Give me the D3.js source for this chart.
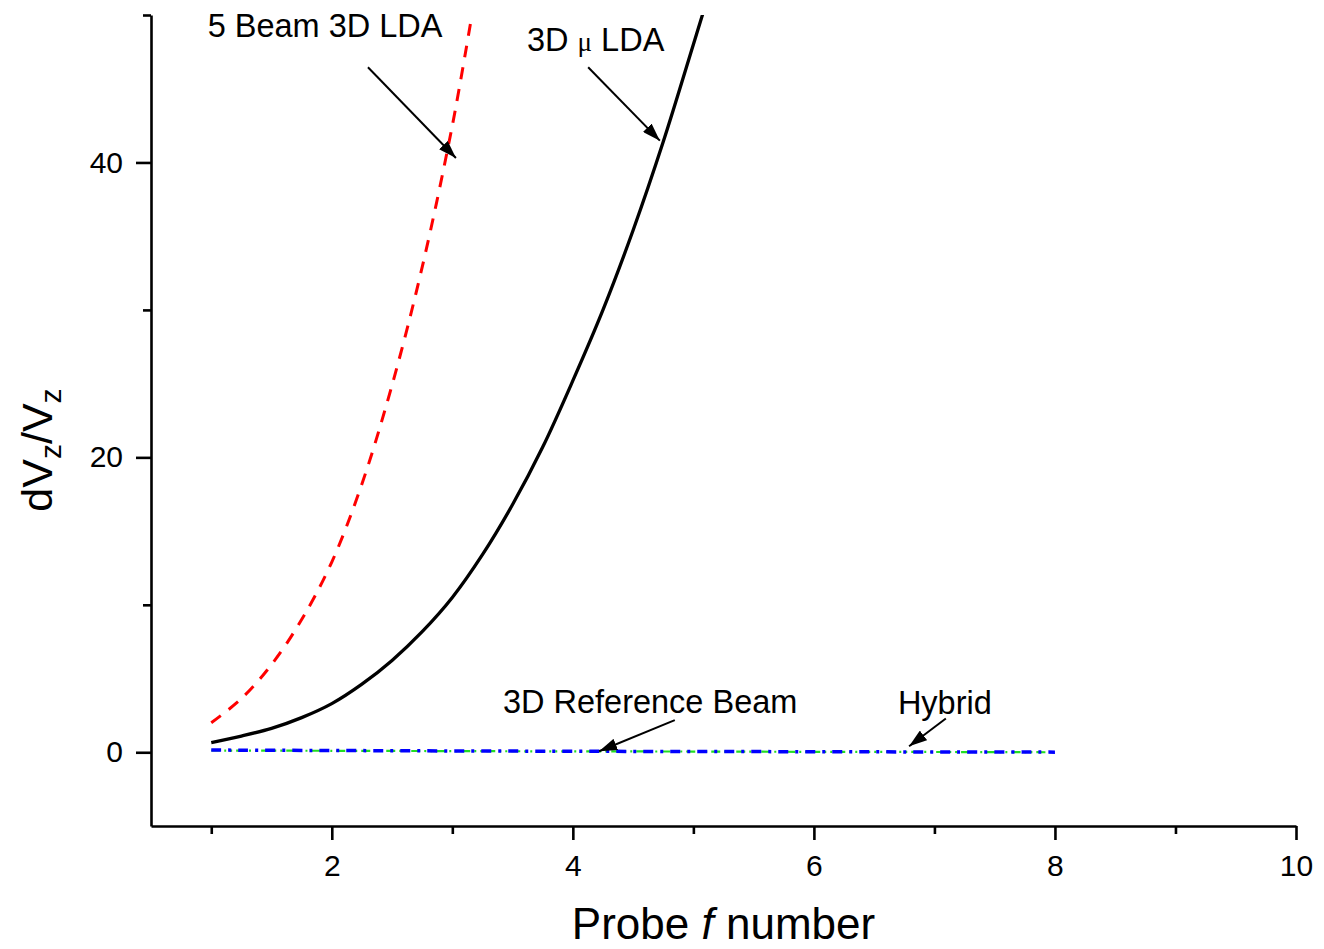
<!DOCTYPE html>
<html>
<head>
<meta charset="utf-8">
<script src="https://cdn.jsdelivr.net/npm/d3@7"></script>
<style>
  body { margin: 0; background: #fff; }
  svg { display: block; font-family: Arial, "Liberation Sans", sans-serif; }
</style>
</head>
<body>
<div id="chart"></div>
<script>
// probe f number vs dVz/Vz
var fiveBeamF = [1, 1.25, 1.5, 1.75, 2, 2.25, 2.5, 2.75, 3, 3.15];
var fiveBeamV = [2.0, 3.64, 5.95, 9.0, 12.9, 18.2, 24.9, 32.9, 42.5, 49.4];

var microF = [1, 1.25, 1.5, 1.75, 2, 2.25, 2.5, 2.75, 3, 3.25, 3.5, 3.75, 4, 4.25, 4.5, 4.75, 5, 5.09];
var microV = [0.66, 1.1, 1.62, 2.35, 3.3, 4.62, 6.23, 8.18, 10.5, 13.4, 16.8, 20.7, 25.2, 30.0, 35.4, 41.4, 48.0, 50.4];

var refF = [1, 2, 3, 4, 5, 6, 7, 8];
var refV = [0.15, 0.12, 0.09, 0.07, 0.05, 0.04, 0.02, 0.01];
var hybridV = [0.12, 0.10, 0.08, 0.06, 0.05, 0.03, 0.02, 0.0];

var xMajor = [2, 4, 6, 8, 10];
var xMinor = [1, 3, 5, 7, 9];
var yMajor = [0, 20, 40];
var yMinor = [10, 30, 50];

// annotation text + arrows, in data units
var notes = [
  {text: "5 Beam 3D LDA", tx: 0.97, ty: 48.5, x1: 2.30, y1: 46.46, x2: 3.03, y2: 40.3},
  {text: "3D \u03bc LDA", tx: 3.62, ty: 47.55, x1: 4.127, y1: 46.46, x2: 4.722, y2: 41.48},
  {text: "3D Reference Beam", tx: 3.42, ty: 2.65, x1: 4.846, y1: 2.18, x2: 4.218, y2: 0.07},
  {text: "Hybrid", tx: 6.697, ty: 2.59, x1: 7.095, y1: 2.29, x2: 6.79, y2: 0.41}
];

var W = 1324, H = 949;
var pLeft = 151, pRight = 1296, pTop = 15, pBottom = 826;

var svg = d3.select("#chart").append("svg")
  .attr("width", W).attr("height", H);

var x = d3.scaleLinear().domain([0.5, 10]).range([pLeft, pRight]);
var y = d3.scaleLinear().domain([-5, 50]).range([pBottom, pTop]);

var defs = svg.append("defs");
defs.append("marker")
  .attr("id", "head")
  .attr("markerUnits", "userSpaceOnUse")
  .attr("viewBox", "0 0 18 12")
  .attr("refX", 18).attr("refY", 6)
  .attr("markerWidth", 18).attr("markerHeight", 12)
  .attr("orient", "auto")
  .append("path").attr("d", "M0,0 L18,6 L0,12 Z").attr("fill", "#000");

defs.append("clipPath").attr("id", "plot")
  .append("rect").attr("x", pLeft).attr("y", pTop)
  .attr("width", pRight - pLeft).attr("height", pBottom - pTop);

function pairs(xs, ys) {
  return xs.map(function(d, i) { return [d, ys[i]]; });
}

var line = d3.line()
  .x(function(d) { return x(d[0]); })
  .y(function(d) { return y(d[1]); })
  .curve(d3.curveCatmullRom.alpha(0.5));

var g = svg.append("g").attr("clip-path", "url(#plot)");

// hybrid (green dash-dot-dot) under the blue reference beam line
g.append("path").datum(pairs(refF, hybridV))
  .attr("d", line).attr("fill", "none")
  .attr("stroke", "#22dd22").attr("stroke-width", 2.2)
  .attr("stroke-dasharray", "9,4,2,4,2,4");

g.append("path").datum(pairs(refF, refV))
  .attr("d", line).attr("fill", "none")
  .attr("stroke", "#0000ff").attr("stroke-width", 3.5)
  .attr("stroke-dasharray", "10,7,3,7");

g.append("path").datum(pairs(microF, microV))
  .attr("d", line).attr("fill", "none")
  .attr("stroke", "#000").attr("stroke-width", 3.3);

g.append("path").datum(pairs(fiveBeamF, fiveBeamV))
  .attr("d", line).attr("fill", "none")
  .attr("stroke", "#ff0000").attr("stroke-width", 3)
  .attr("stroke-dasharray", "12,10");

// axes
svg.append("g").attr("transform", "translate(0," + pBottom + ")")
  .call(d3.axisBottom(x).tickValues(xMajor).tickSize(14).tickSizeOuter(0).tickPadding(15)
    .tickFormat(d3.format("d")));
svg.append("g").attr("transform", "translate(0," + pBottom + ")")
  .call(d3.axisBottom(x).tickValues(xMinor).tickSize(8).tickFormat(""))
  .select(".domain").remove();

svg.append("g").attr("transform", "translate(" + pLeft + ",0)")
  .call(d3.axisLeft(y).tickValues(yMajor).tickSize(15).tickSizeOuter(0).tickPadding(13)
    .tickFormat(d3.format("d")));
svg.append("g").attr("transform", "translate(" + pLeft + ",0)")
  .call(d3.axisLeft(y).tickValues(yMinor).tickSize(8).tickFormat(""))
  .select(".domain").remove();

svg.selectAll(".domain, .tick line").attr("stroke", "#000").attr("stroke-width", 2.6);
svg.selectAll(".tick text").attr("font-size", 30).attr("fill", "#000")
  .attr("font-family", "Arial, 'Liberation Sans', sans-serif");

// axis titles
var xt = svg.append("text")
  .attr("x", (pLeft + pRight) / 2).attr("y", 939)
  .attr("text-anchor", "middle").attr("font-size", 44);
xt.append("tspan").text("Probe ");
xt.append("tspan").attr("font-style", "italic").text("f");
xt.append("tspan").text(" number");

var yt = svg.append("text")
  .attr("transform", "translate(52,450) rotate(-90)")
  .attr("text-anchor", "middle").attr("font-size", 43);
yt.append("tspan").text("dV");
yt.append("tspan").attr("font-size", 30).attr("dy", 9).text("z");
yt.append("tspan").attr("dy", -9).text("/V");
yt.append("tspan").attr("font-size", 30).attr("dy", 9).text("z");

// annotations
notes.forEach(function(n) {
  var t = svg.append("text")
    .attr("x", x(n.tx)).attr("y", y(n.ty))
    .attr("font-size", 32.5);
  if (n.text.indexOf("\u03bc") >= 0) {
    var parts = n.text.split("\u03bc");
    t.append("tspan").text(parts[0]);
    t.append("tspan").attr("font-family", "'Liberation Serif', 'DejaVu Serif', serif")
      .attr("font-size", 27).text("\u03bc");
    t.append("tspan").text(parts[1]);
  } else {
    t.text(n.text);
  }
  svg.append("line")
    .attr("x1", x(n.x1)).attr("y1", y(n.y1))
    .attr("x2", x(n.x2)).attr("y2", y(n.y2))
    .attr("stroke", "#000").attr("stroke-width", 2)
    .attr("marker-end", "url(#head)");
});
</script>
</body>
</html>
